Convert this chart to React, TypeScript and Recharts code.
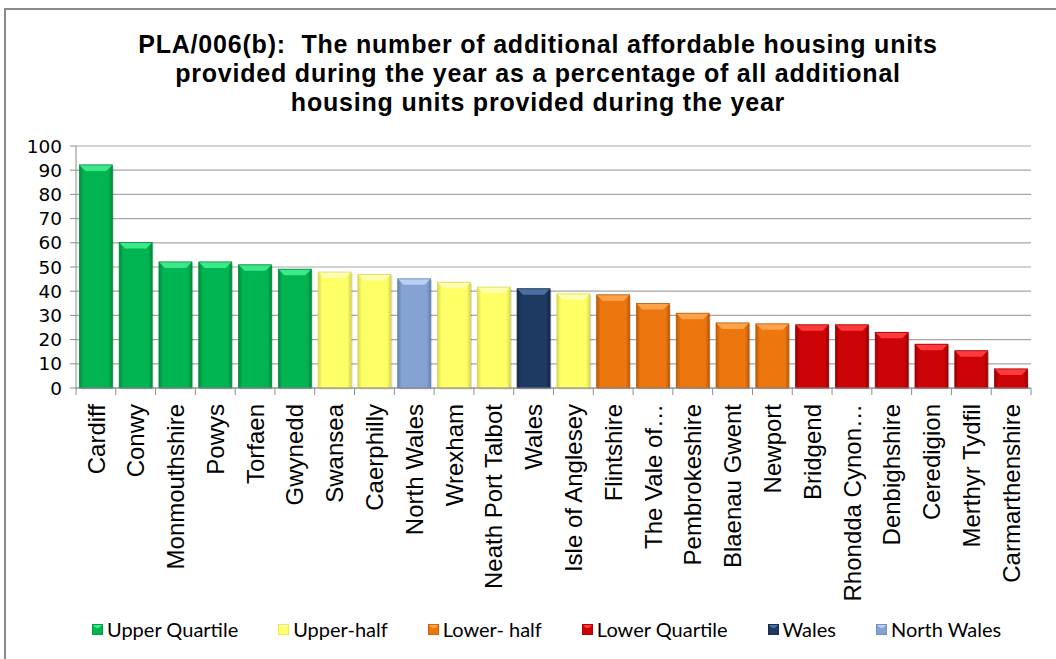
import React from "react";
import { BarChart, Bar, XAxis, YAxis, CartesianGrid, Cell } from "recharts";

const categories = [
  "Cardiff", "Conwy", "Monmouthshire", "Powys", "Torfaen", "Gwynedd", "Swansea",
  "Caerphilly", "North Wales", "Wrexham", "Neath Port Talbot", "Wales",
  "Isle of Anglesey", "Flintshire", "The Vale of…", "Pembrokeshire", "Blaenau Gwent",
  "Newport", "Bridgend", "Rhondda Cynon…", "Denbighshire", "Ceredigion",
  "Merthyr Tydfil", "Carmarthenshire",
];
const values = [
  92.2, 60.1, 52.1, 52.1, 50.9, 49.1, 47.9, 46.9, 45.1, 43.7, 41.7, 41.0,
  38.9, 38.5, 34.9, 30.9, 26.9, 26.5, 26.1, 26.1, 23.0, 18.1, 15.4, 7.9,
];
const groups = [
  "uq", "uq", "uq", "uq", "uq", "uq", "uh", "uh", "nw", "uh", "uh", "wa",
  "uh", "lh", "lh", "lh", "lh", "lh", "lq", "lq", "lq", "lq", "lq", "lq",
];
const yTicks = [0, 10, 20, 30, 40, 50, 60, 70, 80, 90, 100];
const legendKeys = ["uq", "uh", "lh", "lq", "wa", "nw"];
const legendLabels = ["Upper Quartile", "Upper-half", "Lower- half", "Lower Quartile", "Wales", "North Wales"];
const titleLines = [
  "PLA/006(b):  The number of additional affordable housing units",
  "provided during the year as a percentage of all additional",
  "housing units provided during the year",
];

const palette: Record<string, { base: string; top: string; dark: string }> = {
  uq: { base: "#00B451", top: "#3BE88A", dark: "#008A3C" },
  uh: { base: "#FFFF66", top: "#FFFFB0", dark: "#D8D850" },
  lh: { base: "#EE760F", top: "#FFA34A", dark: "#B85A08" },
  lq: { base: "#CC0408", top: "#FF3A3A", dark: "#990003" },
  wa: { base: "#1E3A62", top: "#4A6FA0", dark: "#122746" },
  nw: { base: "#84A2D2", top: "#B8D0F4", dark: "#6580AE" },
};

const data = categories.map((name, i) => ({ name, value: values[i], group: groups[i] }));

const W = 1056;
const H = 659;
const Y_W = 76;
const M_RIGHT = 25;
const M_TOP = 146;
const X_H = 271;
const BAND = (W - Y_W - M_RIGHT) / categories.length;

const BevelBar = (props: any) => {
  const { x, y, width, height, payload } = props;
  if (!height || height <= 0) return null;
  const c = palette[payload.group];
  const b = Math.min(6, height / 2);
  const id = "g-" + payload.group;
  return (
    <g>
      <rect x={x + 1.5} y={y + 1.5} width={width} height={height} fill="#000" opacity={0.12} />
      <rect x={x} y={y} width={width} height={height} fill={`url(#${id})`} />
      <polygon
        points={`${x},${y} ${x + width},${y} ${x + width - b},${y + b} ${x + b},${y + b}`}
        fill={c.top}
      />
      <rect x={x} y={y} width={width} height={height} fill="none" stroke={c.dark} strokeWidth={0.8} />
    </g>
  );
};

const XTick = (props: any) => {
  const { x, y, payload, index } = props;
  return (
    <g>
      <line x1={x - BAND / 2} y1={y - 8} x2={x - BAND / 2} y2={y - 1} stroke="#8c8c8c" />
      {index === categories.length - 1 && (
        <line x1={x + BAND / 2} y1={y - 8} x2={x + BAND / 2} y2={y - 1} stroke="#8c8c8c" />
      )}
      <text
        transform={`translate(${x},${y + 8}) rotate(-90)`}
        textAnchor="end"
        dy="0.36em"
        fontFamily="'Liberation Sans', Arial, sans-serif"
        fontSize={24}
        fill="#000"
      >
        {payload.value}
      </text>
    </g>
  );
};

export default function App() {
  return (
    <div style={{ position: "absolute", left: 0, top: 0, width: W, height: H, background: "#fff", overflow: "hidden" }}>
      <div style={{ position: "absolute", left: 4, top: 8, width: W, height: H, borderLeft: "2px solid #8a8a8a", borderTop: "2px solid #8a8a8a" }} />
      <div
        style={{
          position: "absolute", left: 0, top: 30, width: 1076, textAlign: "center",
          fontFamily: "'Liberation Sans', Arial, sans-serif", fontWeight: "bold", fontSize: 25, letterSpacing: 0.8,
          lineHeight: "29px", color: "#000",
        }}
      >
        {titleLines.map((t, i) => (
          <div key={i} style={{ whiteSpace: "pre" }}>{t}</div>
        ))}
      </div>
      <div style={{ position: "absolute", left: 0, top: 0 }}>
        <BarChart width={W} height={H} data={data} margin={{ top: M_TOP, right: M_RIGHT, bottom: 0, left: 0 }} barCategoryGap="8.5%">
          <defs>
            {legendKeys.map((k) => (
              <linearGradient key={k} id={"g-" + k} x1="0" y1="0" x2="1" y2="0">
                <stop offset="0" stopColor={palette[k].dark} />
                <stop offset="0.12" stopColor={palette[k].base} />
                <stop offset="0.88" stopColor={palette[k].base} />
                <stop offset="1" stopColor={palette[k].dark} />
              </linearGradient>
            ))}
          </defs>
          <CartesianGrid vertical={false} stroke="#a6a6a6" strokeWidth={1.2} />
          <XAxis
            dataKey="name"
            interval={0}
            height={X_H}
            tick={<XTick />}
            tickLine={false}
            axisLine={{ stroke: "#8c8c8c" }}
          />
          <YAxis
            width={Y_W}
            domain={[0, 100]}
            ticks={yTicks}
            interval={0}
            tickSize={6}
            tickLine={{ stroke: "#8c8c8c" }}
            axisLine={{ stroke: "#8c8c8c" }}
            tick={{ fontFamily: "'DejaVu Sans', sans-serif", fontSize: 18.5, fill: "#000", dx: -6 }}
          />
          <Bar dataKey="value" isAnimationActive={false} shape={<BevelBar />}>
            {data.map((d, i) => (
              <Cell key={i} fill={palette[d.group].base} />
            ))}
          </Bar>
        </BarChart>
      </div>
      <div
        style={{
          position: "absolute", left: 92, top: 617, display: "flex", alignItems: "center", gap: 40,
          fontFamily: "Lato, sans-serif", fontSize: 20, color: "#000", whiteSpace: "nowrap",
        }}
      >
        {legendKeys.map((k, i) => (
          <div key={k} style={{ display: "flex", alignItems: "center" }}>
            <svg width={11} height={11} style={{ marginRight: 4 }}>
              <rect x={0} y={0} width={11} height={11} fill={palette[k].base} stroke={palette[k].dark} />
              <polygon points="1,1 10,1 7,4 4,4" fill={palette[k].top} />
            </svg>
            <span>{legendLabels[i]}</span>
          </div>
        ))}
      </div>
    </div>
  );
}
